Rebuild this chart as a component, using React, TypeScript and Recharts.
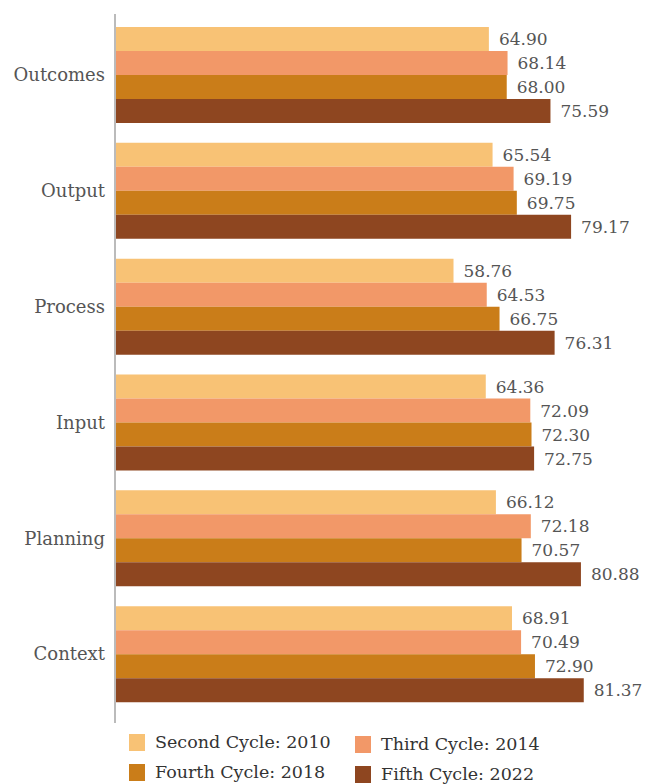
import React from "react";
import { BarChart, Bar, XAxis, YAxis, LabelList } from "recharts";

const categories = ["Outcomes", "Output", "Process", "Input", "Planning", "Context"];
const secondCycle2010 = [64.9, 65.54, 58.76, 64.36, 66.12, 68.91];
const thirdCycle2014 = [68.14, 69.19, 64.53, 72.09, 72.18, 70.49];
const fourthCycle2018 = [68.0, 69.75, 66.75, 72.3, 70.57, 72.9];
const fifthCycle2022 = [75.59, 79.17, 76.31, 72.75, 80.88, 81.37];

const seriesNames = [
  "Second Cycle: 2010",
  "Third Cycle: 2014",
  "Fourth Cycle: 2018",
  "Fifth Cycle: 2022",
];
const colors = ["#F8C275", "#F29868", "#CA7D19", "#8E4620"];

const data = categories.map((name, i) => ({
  name,
  s2010: secondCycle2010[i],
  s2014: thirdCycle2014[i],
  s2018: fourthCycle2018[i],
  s2022: fifthCycle2022[i],
}));

const keys = ["s2010", "s2014", "s2018", "s2022"];
const FONT = "'DejaVu Serif', serif";

const LegendBox = () => {
  const item = (idx: number, left: number, top: number) => (
    <div
      key={idx}
      style={{
        position: "absolute",
        left,
        top,
        height: 20,
        lineHeight: "20px",
        display: "flex",
        alignItems: "center",
        fontFamily: FONT,
        fontSize: 17.5,
        color: "#333",
        whiteSpace: "nowrap",
      }}
    >
      <span
        style={{
          display: "inline-block",
          width: 16,
          height: 17,
          background: colors[idx],
          marginRight: 10,
        }}
      />
      {seriesNames[idx]}
    </div>
  );
  return (
    <>
      {item(0, 129, 732)}
      {item(1, 355, 734)}
      {item(2, 129, 762)}
      {item(3, 355, 764)}
    </>
  );
};

export default function App() {
  return (
    <div
      style={{
        position: "absolute",
        left: 0,
        top: 0,
        width: 646,
        height: 784,
        overflow: "hidden",
      }}
    >
      <BarChart
        width={646}
        height={784}
        data={data}
        layout="vertical"
        margin={{ top: 14, right: 1, bottom: 61, left: 15 }}
        barGap={0}
      >
        <XAxis type="number" domain={[0, 92]} hide />
        <YAxis
          type="category"
          dataKey="name"
          width={100}
          padding={{ top: 3, bottom: 11 }}
          axisLine={{ stroke: "#BBBBBB", strokeWidth: 2 }}
          tickLine={false}
          tick={{ fill: "#555", fontSize: 18, fontFamily: FONT }}
          tickMargin={4}
        />
        {keys.map((k, i) => (
          <Bar
            key={k}
            dataKey={k}
            fill={colors[i]}
            barSize={24}
            isAnimationActive={false}
          >
            <LabelList
              dataKey={k}
              position="right"
              offset={10}
              formatter={(v: number) => v.toFixed(2)}
              style={{ fill: "#555", fontSize: 17, fontFamily: FONT }}
            />
          </Bar>
        ))}
      </BarChart>
      <LegendBox />
    </div>
  );
}
